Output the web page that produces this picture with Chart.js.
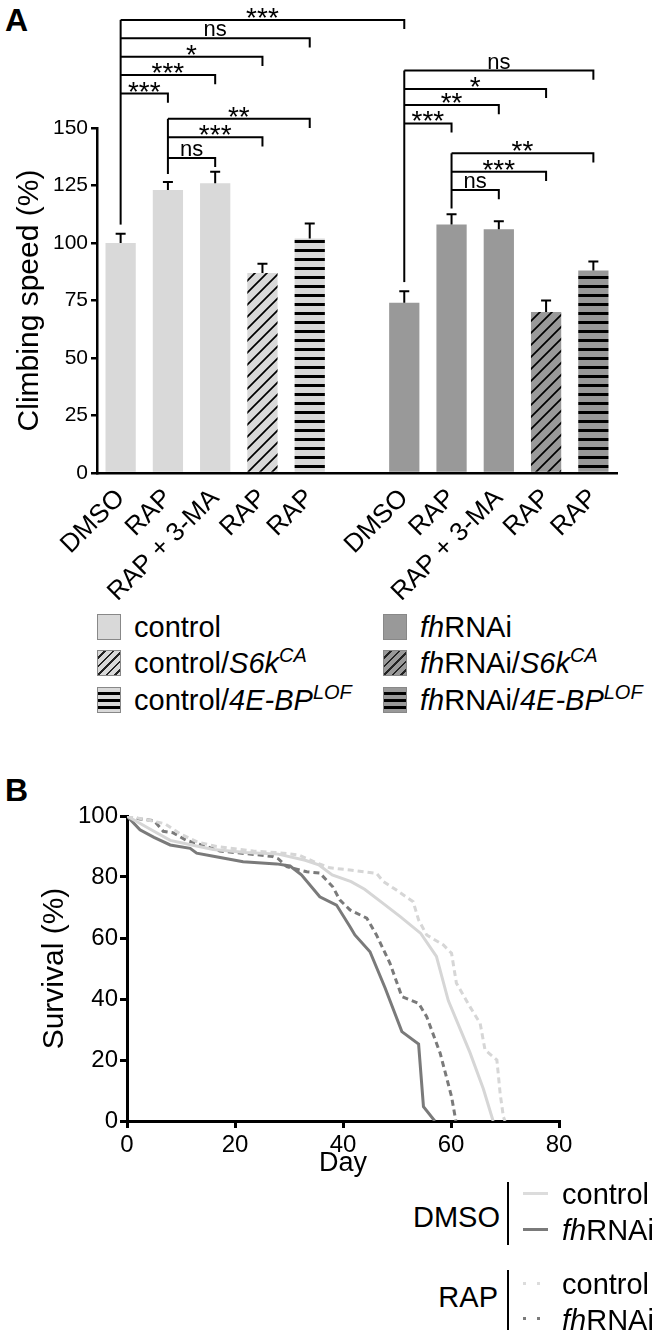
<!DOCTYPE html>
<html lang="en">
<head>
<meta charset="UTF-8">
<title>Climbing speed and survival</title>
<style>
  * { margin: 0; padding: 0; box-sizing: border-box; }
  html, body { width: 666px; height: 1335px; background: #fff; font-family: "Liberation Sans", Arial, sans-serif; color: #000; }
  .abs { position: absolute; }
  .panel { position: absolute; font-weight: bold; font-size: 32px; }
  .lg { position: absolute; font-size: 29px; line-height: 28px; white-space: nowrap; }
  .sw { position: absolute; width: 24px; height: 26px; border: 1px solid #888; }
  sup { font-size: 20px; position: relative; top: -11px; vertical-align: baseline; }
  .bar { position: absolute; width: 2px; background: #000; }
</style>
<script src="https://cdn.jsdelivr.net/npm/chart.js"></script>
</head>
<body>
<div class="panel" style="left:5px;top:2px;">A</div>
<canvas id="chartA" class="abs" width="666" height="600" style="left:0;top:0;"></canvas>

<!-- legend A -->
<div class="sw" style="left:97px;top:614px;background:#d9d9d9;"></div>
<div class="lg" style="left:134px;top:613px;">control</div>
<div class="sw" style="left:97px;top:650px;background:repeating-linear-gradient(135deg,#d9d9d9 0 4px,#222 4px 6px);"></div>
<div class="lg" style="left:134px;top:649px;">control/<i>S6k</i><sup><i>CA</i></sup></div>
<div class="sw" style="left:97px;top:687px;background:repeating-linear-gradient(180deg,#d9d9d9 0 4px,#000 4px 7px);"></div>
<div class="lg" style="left:134px;top:686px;">control/<i>4E-BP</i><sup><i>LOF</i></sup></div>

<div class="sw" style="left:383px;top:614px;background:#999;"></div>
<div class="lg" style="left:420px;top:613px;"><i>fh</i>RNAi</div>
<div class="sw" style="left:383px;top:650px;background:repeating-linear-gradient(135deg,#999 0 4px,#222 4px 6px);"></div>
<div class="lg" style="left:420px;top:649px;"><i>fh</i>RNAi/<i>S6k</i><sup><i>CA</i></sup></div>
<div class="sw" style="left:383px;top:687px;background:repeating-linear-gradient(180deg,#999 0 4px,#000 4px 7px);"></div>
<div class="lg" style="left:420px;top:686px;"><i>fh</i>RNAi/<i>4E-BP</i><sup><i>LOF</i></sup></div>

<div class="panel" style="left:5px;top:772px;">B</div>
<canvas id="chartB" class="abs" width="666" height="430" style="left:0;top:760px;"></canvas>

<!-- legend B -->
<div class="lg" style="right:166px;top:1203px;">DMSO</div>
<div class="bar" style="left:507px;top:1182px;height:63px;"></div>
<div class="abs" style="left:523px;top:1192px;width:25px;height:3px;background:#dcdcdc;"></div>
<div class="abs" style="left:523px;top:1228px;width:25px;height:3px;background:#7a7a7a;"></div>
<div class="lg" style="left:562px;top:1180px;">control</div>
<div class="lg" style="left:562px;top:1216px;"><i>fh</i>RNAi</div>

<div class="lg" style="right:168px;top:1283px;">RAP</div>
<div class="bar" style="left:507px;top:1270px;height:60px;"></div>
<div class="abs" style="left:523px;top:1282px;width:3px;height:3px;background:#dcdcdc;"></div>
<div class="abs" style="left:537px;top:1282px;width:3px;height:3px;background:#dcdcdc;"></div>
<div class="abs" style="left:523px;top:1317px;width:3px;height:3px;background:#7a7a7a;"></div>
<div class="abs" style="left:537px;top:1317px;width:3px;height:3px;background:#7a7a7a;"></div>
<div class="lg" style="left:562px;top:1270px;">control</div>
<div class="lg" style="left:562px;top:1306px;"><i>fh</i>RNAi</div>

<script>
// ---- panel A data ----
const climbLabels = ['DMSO', 'RAP', 'RAP + 3-MA', 'RAP', 'RAP', '', 'DMSO', 'RAP', 'RAP + 3-MA', 'RAP', 'RAP'];
const climbMeans = [100, 123, 126, 87, 102, null, 74, 108, 106, 70, 88];
const climbSem = [4, 3.5, 5, 4, 6.5, null, 5, 4.5, 3.5, 5, 4];
// genotype of each bar: 'c' control, 'f' fhRNAi; style: plain / s6k hatch / 4ebp stripes
const climbGroup = ['c', 'c', 'c', 'c', 'c', null, 'f', 'f', 'f', 'f', 'f'];
const climbFill = ['plain', 'plain', 'plain', 's6k', '4ebp', null, 'plain', 'plain', 'plain', 's6k', '4ebp'];
// significance: [from bar, to bar, height (%), label]
const brackets = [
  [0, 6, 197, '***'], [0, 4, 189, 'ns'], [0, 3, 181, '*'], [0, 2, 173, '***'], [0, 1, 165, '***'],
  [1, 4, 154, '**'], [1, 3, 146, '***'], [1, 2, 137, 'ns'],
  [6, 10, 175, 'ns'], [6, 9, 167, '*'], [6, 8, 160, '**'], [6, 7, 152, '***'],
  [7, 10, 139, '**'], [7, 9, 131, '***'], [7, 8, 123, 'ns']
];
// vertical stems: [bar, top (%), bottom (%)]
const stems = [[0, 197, 108], [1, 154, 130], [6, 175, 83], [7, 139, 115]];

// ---- panel B data ----
const dmsoCtrlDay = [0, 4, 8, 12, 16, 22, 28, 33, 35.5, 38, 41.5, 44, 47.3, 50.6, 54.4, 57.3, 59.5, 63.5, 66, 67.8];
const dmsoCtrlSurv = [100, 96, 92, 90.5, 89, 88, 87.5, 85.5, 84, 80.7, 78.5, 76, 71.5, 67, 61.5, 54, 39.5, 22.5, 10.5, 0];
const dmsoFhDay = [0, 2.4, 5, 8, 11.7, 12.9, 16, 21.5, 27.7, 30.2, 32.3, 35.7, 38.8, 41.3, 42.2, 45, 47.8, 50.9, 54, 54.9, 57];
const dmsoFhSurv = [100, 95.5, 93, 90.5, 89.4, 87.8, 86.8, 85, 84.3, 83.6, 80.7, 73.5, 70.8, 63.7, 61, 55.5, 43.6, 29.3, 25.2, 4.7, 0];
const rapCtrlDay = [0, 3, 7, 10, 13, 16.6, 23.4, 28, 31.8, 35.3, 37.6, 41.3, 46.2, 47.5, 49.9, 53, 54, 55.5, 58.6, 60.1, 61, 63.5, 65.4, 66.3, 68.5, 69.1, 69.7, 70];
const rapCtrlSurv = [100, 99, 97.5, 94, 91.5, 90, 88.5, 88, 87.2, 84.5, 83, 82.3, 81.2, 78.5, 75.7, 71.9, 65.9, 61, 57.7, 55, 45.2, 37.5, 32, 23.3, 20, 9, 1.4, 0];
const rapFhDay = [0, 2.4, 5, 6.7, 8.5, 11, 13, 17.2, 24.6, 27, 28, 29.6, 33.3, 35.7, 38.1, 39.4, 41.3, 44.4, 46.2, 48.7, 50.9, 54, 55.5, 58, 60.1, 60.9];
const rapFhSurv = [100, 99, 98.5, 95, 94.5, 92, 91, 88.5, 87.2, 86.7, 86, 83.4, 81.7, 81.3, 76.8, 72.5, 69.2, 66.5, 61, 51.7, 40.8, 38.6, 34.2, 22.2, 8, 0];

const LIGHT = '#d9d9d9', DARK = '#999999';
const LINE_LIGHT = '#d6d6d6', LINE_DARK = '#7a7a7a';
Chart.defaults.font.family = '"Liberation Sans", Arial, sans-serif';
Chart.defaults.color = '#000';

function hatch(base) {
  const c = document.createElement('canvas');
  c.width = c.height = 12;
  const g = c.getContext('2d');
  g.fillStyle = base; g.fillRect(0, 0, 12, 12);
  g.strokeStyle = '#000'; g.lineWidth = 1.7;
  g.beginPath();
  g.moveTo(-1, 13); g.lineTo(13, -1);
  g.moveTo(-7, 7); g.lineTo(7, -7);
  g.moveTo(5, 19); g.lineTo(19, 5);
  g.stroke();
  return g.createPattern(c, 'repeat');
}
function stripes(base) {
  const c = document.createElement('canvas');
  c.width = 4; c.height = 9;
  const g = c.getContext('2d');
  g.fillStyle = base; g.fillRect(0, 0, 4, 9);
  g.fillStyle = '#000'; g.fillRect(0, 6, 4, 3);
  return g.createPattern(c, 'repeat');
}
const fills = {
  c: { plain: LIGHT, s6k: hatch(LIGHT), '4ebp': stripes(LIGHT) },
  f: { plain: DARK, s6k: hatch(DARK), '4ebp': stripes(DARK) }
};
const barColors = climbGroup.map((g, i) => g ? fills[g][climbFill[i]] : 'rgba(0,0,0,0)');

const annotate = {
  id: 'annotate',
  afterDatasetsDraw(chart) {
    const { ctx, scales: { x, y } } = chart;
    ctx.save();
    ctx.strokeStyle = '#000';
    // error bars
    ctx.lineWidth = 2;
    climbMeans.forEach((m, i) => {
      if (m == null) return;
      const px = x.getPixelForValue(i);
      const top = y.getPixelForValue(m + climbSem[i]);
      ctx.beginPath();
      ctx.moveTo(px, y.getPixelForValue(m));
      ctx.lineTo(px, top);
      ctx.moveTo(px - 5, top);
      ctx.lineTo(px + 5, top);
      ctx.stroke();
    });
    // stems
    stems.forEach(([b, t, bt]) => {
      const px = x.getPixelForValue(b);
      ctx.beginPath();
      ctx.moveTo(px, y.getPixelForValue(t));
      ctx.lineTo(px, y.getPixelForValue(bt));
      ctx.stroke();
    });
    // brackets
    ctx.textAlign = 'center';
    ctx.textBaseline = 'alphabetic';
    ctx.fillStyle = '#000';
    brackets.forEach(([a, b, h, label]) => {
      const x0 = x.getPixelForValue(a), x1 = x.getPixelForValue(b);
      const py = y.getPixelForValue(h);
      const drop = y.getPixelForValue(h - 4);
      ctx.beginPath();
      ctx.moveTo(x0, py);
      ctx.lineTo(x1, py);
      ctx.lineTo(x1, drop);
      ctx.stroke();
      if (label === 'ns') {
        ctx.font = '22px "Liberation Sans", Arial, sans-serif';
        ctx.fillText(label, (x0 + x1) / 2, py - 2);
      } else {
        ctx.font = '28px "Liberation Sans", Arial, sans-serif';
        ctx.fillText(label, (x0 + x1) / 2, py + 7);
      }
    });
    ctx.restore();
  }
};

new Chart(document.getElementById('chartA'), {
  type: 'bar',
  data: {
    labels: climbLabels,
    datasets: [{
      data: climbMeans,
      backgroundColor: barColors,
      borderWidth: 0,
      categoryPercentage: 1,
      barPercentage: 0.64
    }]
  },
  options: {
    responsive: false,
    animation: false,
    devicePixelRatio: 1,
    layout: { padding: { top: 128, right: 49, left: 0, bottom: 0 } },
    plugins: { legend: { display: false }, tooltip: { enabled: false } },
    scales: {
      x: {
        offset: true,
        grid: { display: true, drawOnChartArea: false, drawTicks: false },
        border: { color: '#000', width: 2.5 },
        ticks: { autoSkip: false, minRotation: 45, maxRotation: 45, padding: 10, font: { size: 26 } },
        afterFit: s => { s.height = 127; }
      },
      y: {
        min: 0, max: 150,
        ticks: { stepSize: 25, padding: 3, font: { size: 21 } },
        grid: { drawOnChartArea: false, tickLength: 6, color: '#000', lineWidth: 2.5 },
        border: { color: '#000', width: 2.5 },
        title: { display: true, text: 'Climbing speed (%)', font: { size: 30 }, padding: { top: 12, bottom: 0 } },
        afterFit: s => { s.width = 97; }
      }
    }
  },
  plugins: [annotate]
});

const toPts = (xs, ys) => xs.map((d, i) => ({ x: d, y: ys[i] }));

new Chart(document.getElementById('chartB'), {
  type: 'line',
  data: {
    datasets: [
      { label: 'DMSO control', data: toPts(dmsoCtrlDay, dmsoCtrlSurv), borderColor: LINE_LIGHT },
      { label: 'RAP control', data: toPts(rapCtrlDay, rapCtrlSurv), borderColor: LINE_LIGHT, borderDash: [6, 4] },
      { label: 'RAP fhRNAi', data: toPts(rapFhDay, rapFhSurv), borderColor: LINE_DARK, borderDash: [6, 4] },
      { label: 'DMSO fhRNAi', data: toPts(dmsoFhDay, dmsoFhSurv), borderColor: LINE_DARK }
    ]
  },
  options: {
    responsive: false,
    animation: false,
    devicePixelRatio: 1,
    elements: { line: { borderWidth: 3, tension: 0 }, point: { radius: 0 } },
    layout: { padding: { top: 56, right: 107, left: 0, bottom: 0 } },
    plugins: { legend: { display: false }, tooltip: { enabled: false } },
    scales: {
      x: {
        type: 'linear', min: 0, max: 80,
        ticks: { stepSize: 20, padding: 3, font: { size: 24 } },
        grid: { drawOnChartArea: false, tickLength: 7, color: '#000', lineWidth: 3 },
        border: { color: '#000', width: 3 },
        title: { display: true, text: 'Day', font: { size: 27 }, padding: { top: 0, bottom: 10 } },
        afterFit: s => { s.height = 69; }
      },
      y: {
        min: 0, max: 100,
        ticks: { stepSize: 20, padding: 2, font: { size: 24 } },
        grid: { drawOnChartArea: false, tickLength: 7, color: '#000', lineWidth: 3 },
        border: { color: '#000', width: 3 },
        title: { display: true, text: 'Survival (%)', font: { size: 30 }, padding: { top: 37, bottom: 0 } },
        afterFit: s => { s.width = 127; }
      }
    }
  }
});
</script>
</body>
</html>
